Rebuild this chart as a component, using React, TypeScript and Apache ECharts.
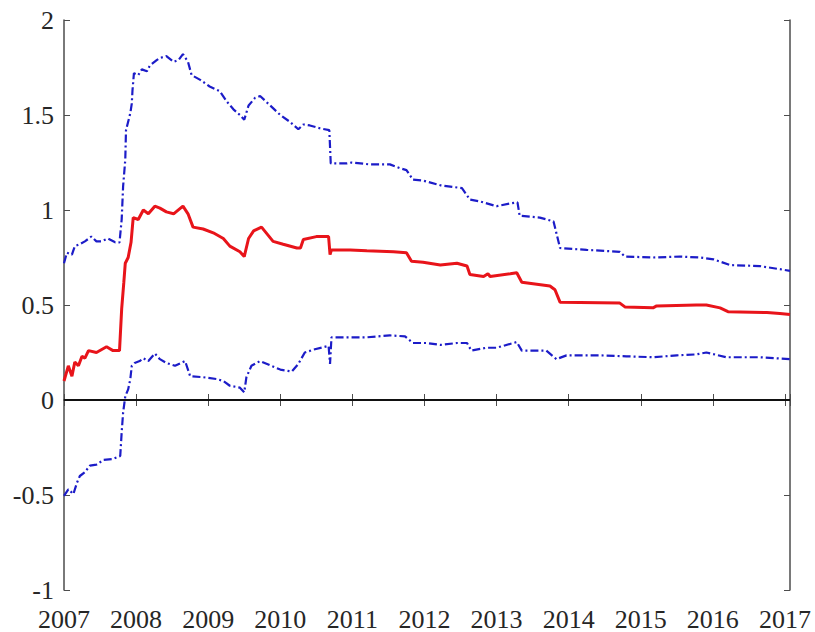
import React, { useEffect, useRef } from "react";
import * as echarts from "echarts";

const yearTicks = [2007, 2008, 2009, 2010, 2011, 2012, 2013, 2014, 2015, 2016, 2017];
const yTicks = [-1, -0.5, 0, 0.5, 1, 1.5, 2];

const meanYears = [
  2007.0, 2007.06, 2007.11, 2007.15, 2007.2, 2007.25, 2007.29, 2007.34, 2007.45, 2007.59,
  2007.68, 2007.77, 2007.8, 2007.83, 2007.85, 2007.89, 2007.93, 2007.96, 2008.03, 2008.1,
  2008.17, 2008.26, 2008.33, 2008.42, 2008.52, 2008.65, 2008.72, 2008.79, 2008.93, 2009.07,
  2009.21, 2009.3, 2009.44, 2009.5, 2009.56, 2009.63, 2009.74, 2009.9, 2010.04, 2010.23,
  2010.28, 2010.32, 2010.5, 2010.67, 2010.69, 2010.71, 2010.97, 2011.2, 2011.57, 2011.75,
  2011.82, 2011.98, 2012.22, 2012.45, 2012.59, 2012.63, 2012.82, 2012.88, 2012.91, 2013.19,
  2013.28, 2013.35, 2013.74, 2013.81, 2013.88, 2014.71, 2014.78, 2015.17, 2015.22, 2015.77,
  2015.91, 2016.1, 2016.21, 2016.75, 2016.93, 2017.07,
];
const meanValues = [
  0.1, 0.18, 0.125, 0.2, 0.18, 0.23, 0.22, 0.26, 0.25, 0.28,
  0.26, 0.26, 0.48, 0.62, 0.72, 0.75, 0.83, 0.96, 0.95, 1.0,
  0.98, 1.02, 1.01, 0.99, 0.98, 1.02, 0.98, 0.91, 0.9, 0.88,
  0.85, 0.81, 0.78, 0.755, 0.85, 0.89, 0.91, 0.835, 0.82, 0.8,
  0.8, 0.845, 0.86, 0.86, 0.765, 0.79, 0.79, 0.785, 0.78, 0.775,
  0.73, 0.725, 0.71, 0.72, 0.705, 0.66, 0.65, 0.665, 0.65, 0.665,
  0.67, 0.62, 0.6, 0.58, 0.515, 0.51, 0.49, 0.485, 0.495, 0.5,
  0.5, 0.485, 0.465, 0.46, 0.455, 0.45,
];

const upperYears = [
  2007.0, 2007.04, 2007.11, 2007.15, 2007.22, 2007.29, 2007.38, 2007.45, 2007.52, 2007.61,
  2007.71, 2007.77, 2007.8, 2007.82, 2007.85, 2007.86, 2007.92, 2007.94, 2007.95, 2007.97,
  2008.03, 2008.08, 2008.15, 2008.19, 2008.29, 2008.33, 2008.42, 2008.52, 2008.59, 2008.65,
  2008.72, 2008.77, 2008.89, 2009.02, 2009.16, 2009.26, 2009.35, 2009.44, 2009.5, 2009.56,
  2009.65, 2009.72, 2010.0, 2010.13, 2010.25, 2010.32, 2010.41, 2010.55, 2010.68, 2010.7,
  2010.92, 2010.99, 2011.24, 2011.52, 2011.66, 2011.75, 2011.84, 2011.98, 2012.22, 2012.52,
  2012.63, 2012.77, 2013.0, 2013.19, 2013.29, 2013.32, 2013.6, 2013.79, 2013.88, 2014.25,
  2014.71, 2014.78, 2015.17, 2015.54, 2015.82, 2016.01, 2016.24, 2016.65, 2017.07,
];
const upperValues = [
  0.72, 0.775, 0.765, 0.81, 0.82, 0.835, 0.86, 0.835, 0.835, 0.85,
  0.83, 0.83, 0.95, 1.125, 1.265, 1.42, 1.51, 1.56, 1.63, 1.72,
  1.71, 1.74, 1.73, 1.76, 1.79, 1.8, 1.81, 1.78, 1.79, 1.82,
  1.78, 1.71, 1.685, 1.65, 1.625, 1.57, 1.53, 1.5, 1.475, 1.55,
  1.59, 1.6, 1.5, 1.465, 1.425, 1.45, 1.445, 1.43, 1.42, 1.245,
  1.245, 1.25, 1.24, 1.24, 1.22, 1.21, 1.16, 1.155, 1.13, 1.115,
  1.055, 1.045, 1.02, 1.035, 1.04, 0.97, 0.96, 0.94, 0.8, 0.79,
  0.78, 0.755, 0.75, 0.755, 0.75, 0.74, 0.71, 0.705, 0.68,
];

const lowerYears = [
  2007.0, 2007.06, 2007.13, 2007.18, 2007.22, 2007.29, 2007.36, 2007.45, 2007.55, 2007.68,
  2007.78, 2007.8, 2007.82, 2007.85, 2007.89, 2007.92, 2007.94, 2007.98, 2008.05, 2008.1,
  2008.17, 2008.26, 2008.33, 2008.42, 2008.54, 2008.68, 2008.75, 2008.93, 2009.12, 2009.21,
  2009.3, 2009.44, 2009.5, 2009.53, 2009.6, 2009.72, 2010.0, 2010.16, 2010.25, 2010.34,
  2010.46, 2010.67, 2010.69, 2010.71, 2010.92, 2011.2, 2011.52, 2011.73, 2011.84, 2012.03,
  2012.22, 2012.45, 2012.59, 2012.65, 2012.86, 2013.0, 2013.28, 2013.35, 2013.69, 2013.83,
  2013.97, 2014.43, 2014.8, 2015.17, 2015.5, 2015.77, 2015.91, 2016.19, 2016.65, 2017.07,
];
const lowerValues = [
  -0.505, -0.47, -0.495, -0.435, -0.4, -0.38, -0.345, -0.34, -0.315, -0.31,
  -0.295, -0.17, -0.066, 0.02, 0.056, 0.11, 0.18, 0.195, 0.205, 0.22,
  0.205, 0.245, 0.215, 0.195, 0.18, 0.205, 0.125, 0.12, 0.11, 0.1,
  0.075, 0.065, 0.04, 0.12, 0.18, 0.205, 0.16, 0.15, 0.19, 0.25,
  0.265, 0.285, 0.19, 0.33, 0.33, 0.33, 0.34, 0.335, 0.3, 0.3,
  0.29, 0.3, 0.3, 0.26, 0.275, 0.275, 0.305, 0.26, 0.26, 0.215,
  0.235, 0.235, 0.23, 0.225, 0.235, 0.24, 0.25, 0.225, 0.225, 0.215,
];

const X_MIN = 2007;
const X_MAX = 2017.07;

const zip = (xs: number[], ys: number[]) => xs.map((x, i) => [x, ys[i]]);

const FONT = "Liberation Serif";
const AXIS_COLOR = "#4d4d4d";
const TEXT_COLOR = "#262626";

export default function App() {
  const ref = useRef<HTMLDivElement>(null);
  useEffect(() => {
    if (!ref.current) return;
    const chart = echarts.init(ref.current, undefined, { renderer: "svg" });
    const xLabel = (v: number) => (yearTicks.includes(Math.round(v * 1000) / 1000) ? String(Math.round(v)) : "");
    const yLabel = (v: number) => {
      const r = Math.round(v * 1000) / 1000;
      return yTicks.includes(r) ? String(r) : "";
    };
    const axisCommon = {
      type: "value" as const,
      axisLine: { show: true, lineStyle: { color: AXIS_COLOR, width: 1.5 } },
      axisTick: { show: true, inside: true, length: 6, lineStyle: { color: AXIS_COLOR, width: 1 } },
      splitLine: { show: false },
    };
    chart.setOption({
      animation: false,
      backgroundColor: "#ffffff",
      grid: { left: 64, top: 20, right: 25, bottom: 41, containLabel: false },
      xAxis: [
        {
          ...axisCommon,
          position: "bottom",
          min: X_MIN,
          max: X_MAX,
          interval: 1,
          axisLabel: {
            formatter: xLabel,
            fontFamily: FONT,
            fontSize: 26,
            color: TEXT_COLOR,
            margin: 16,
          },
        },
        {
          ...axisCommon,
          position: "top",
          min: X_MIN,
          max: X_MAX,
          interval: 1,
          axisLabel: { show: false },
        },
      ],
      yAxis: [
        {
          ...axisCommon,
          position: "left",
          min: -1,
          max: 2,
          interval: 0.5,
          axisLabel: {
            formatter: yLabel,
            fontFamily: FONT,
            fontSize: 26,
            color: TEXT_COLOR,
            margin: 10,
          },
        },
        {
          ...axisCommon,
          position: "right",
          min: -1,
          max: 2,
          interval: 0.5,
          axisLabel: { show: false },
        },
      ],
      series: [
        {
          type: "line",
          name: "zero",
          data: [
            [X_MIN, 0],
            [X_MAX, 0],
          ],
          symbol: "none",
          lineStyle: { color: "#111111", width: 2 },
          silent: true,
        },
        {
          type: "line",
          name: "upper",
          data: zip(upperYears, upperValues),
          symbol: "none",
          lineStyle: { color: "#1c1cc8", width: 2.2, type: [8, 3, 2, 3] },
        },
        {
          type: "line",
          name: "lower",
          data: zip(lowerYears, lowerValues),
          symbol: "none",
          lineStyle: { color: "#1c1cc8", width: 2.2, type: [8, 3, 2, 3] },
        },
        {
          type: "line",
          name: "mean",
          data: zip(meanYears, meanValues),
          symbol: "none",
          lineStyle: { color: "#e8141a", width: 3 },
        },
      ],
    });
    return () => chart.dispose();
  }, []);
  return (
    <div
      ref={ref}
      style={{ position: "fixed", left: 0, top: 0, width: 815, height: 632 }}
    />
  );
}
